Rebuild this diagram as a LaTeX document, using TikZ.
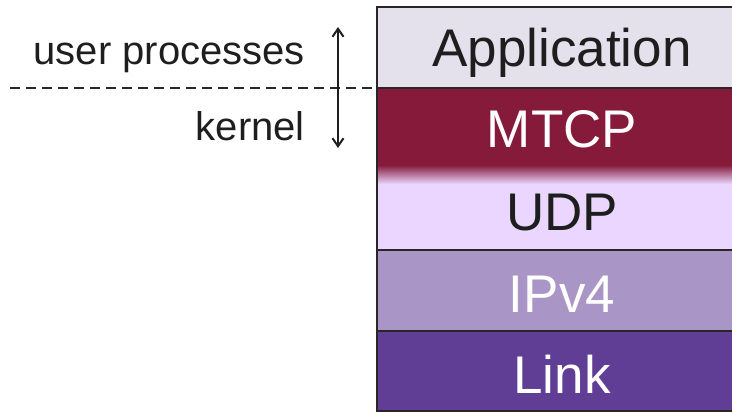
\documentclass[tikz,border=0pt]{standalone}
\usepackage{fontspec}
\setmainfont{Liberation Sans}
\usetikzlibrary{arrows.meta}
\definecolor{appc}{HTML}{E4E1EC}
\definecolor{mtcpc}{HTML}{861A3A}
\definecolor{udpc}{HTML}{EAD6FE}
\definecolor{ipc}{HTML}{A996C6}
\definecolor{linkc}{HTML}{613E96}
\definecolor{ink}{HTML}{1E1E1E}
\definecolor{edge}{HTML}{2A2626}
\tikzset{
  layertext/.style={font=\fontsize{53}{53}\selectfont, anchor=base, inner sep=0pt},
  sidetext/.style={font=\fontsize{40}{40}\selectfont, anchor=base east, inner sep=0pt, text=ink},
  frame/.style={draw=edge, line width=2.5pt}
}
\begin{document}
\begin{tikzpicture}[x=1pt, y=-1pt]
\useasboundingbox (0,0) rectangle (732,412);
% layer fills
\fill[appc] (377,7) rectangle (760,88);
\fill[mtcpc] (377,88) rectangle (760,165);
\shade[top color=mtcpc, bottom color=udpc] (377,165) rectangle (760,184);
\fill[udpc] (377,184) rectangle (760,250);
\fill[ipc] (377,250) rectangle (760,331);
\fill[linkc] (377,331) rectangle (760,411);
% outline and separators
\draw[frame] (760,7) -- (377,7) -- (377,411) -- (760,411);
\draw[frame] (377,250) -- (760,250);
\draw[frame] (377,331) -- (760,331);
\draw[draw=edge, line width=1.5pt] (377,88) -- (760,88);
% layer labels
\node[layertext, text=ink]   (app)  at (562,67)  {Application};
\node[layertext, text=white] (mtcp) at (562,148) {MTCP};
\node[layertext, text=ink]   (udp)  at (562,230) {UDP};
\node[layertext, text=white] (ip)   at (562,312) {IPv4};
\node[layertext, text=white] (link) at (562,393) {Link};
% user/kernel boundary
\coordinate (bl) at (10,88);
\coordinate (br) at (377,88);
\draw[draw=edge, line width=1.5pt, dash pattern=on 10pt off 6pt] (bl) -- (br);
\node[sidetext] (user) at (305,65) {user processes};
\node[sidetext] (kern) at (305,140) {kernel};
\coordinate (atop) at (338,27);
\coordinate (abot) at (338,148);
\draw[draw=ink, line width=2pt, {Straight Barb[length=8pt,width=11pt]}-{Straight Barb[length=8pt,width=11pt]}] (atop) -- (abot);
\end{tikzpicture}
\end{document}
